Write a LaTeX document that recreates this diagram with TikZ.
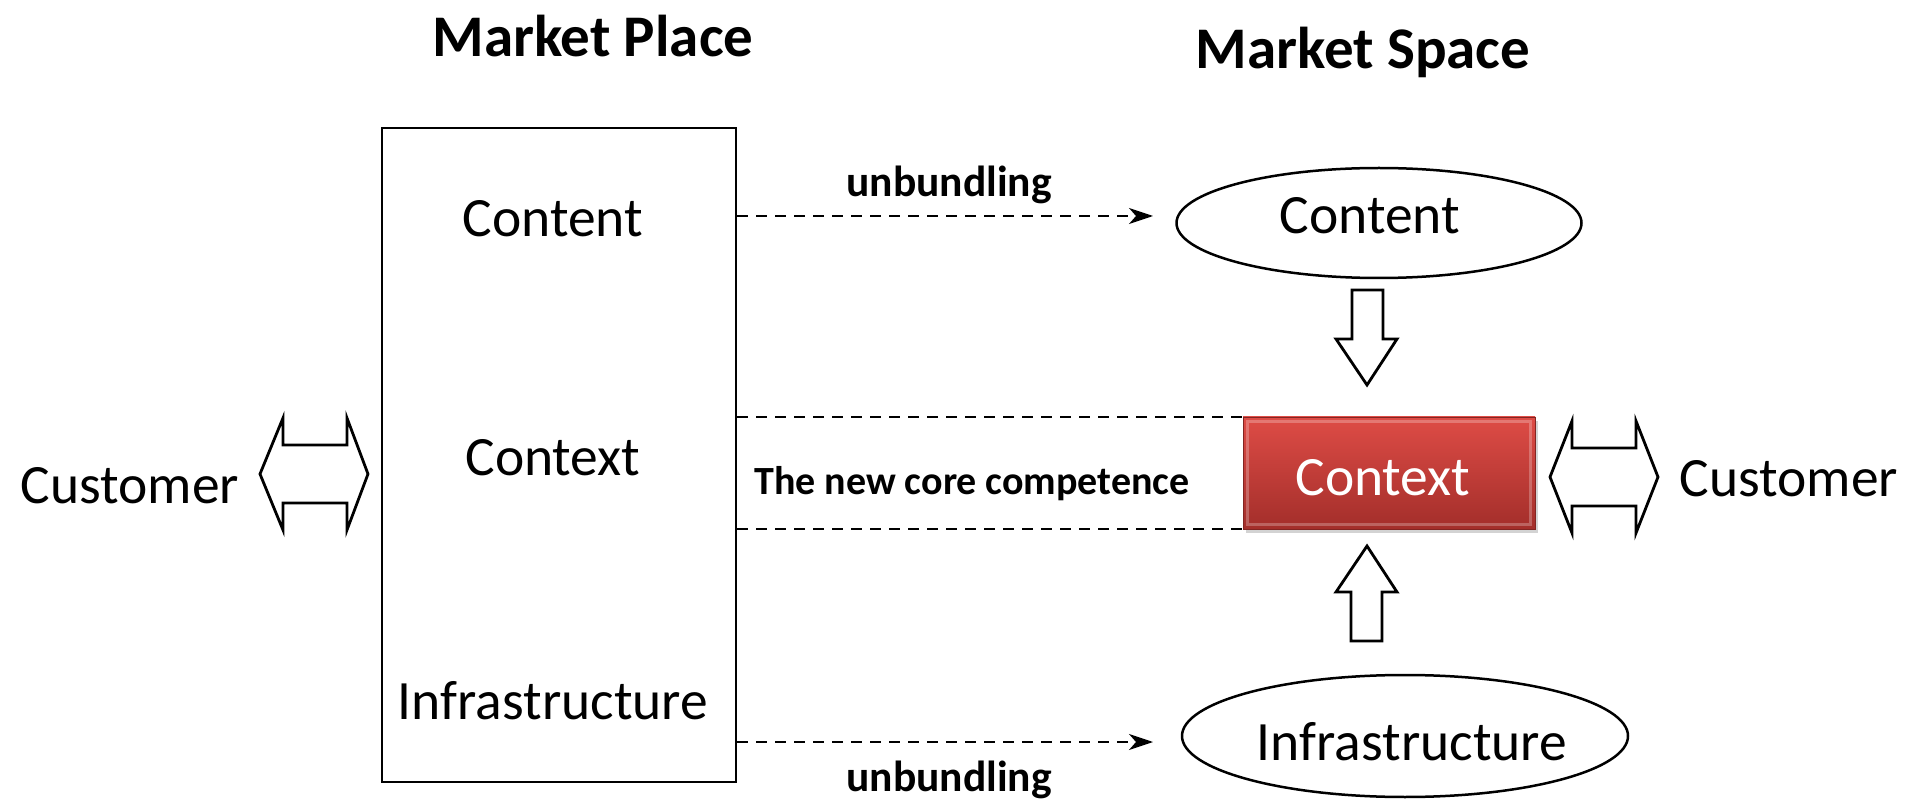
\documentclass[tikz,border=0pt]{standalone}
\usepackage{fontspec}
\setmainfont{Carlito}
\usetikzlibrary{arrows.meta,shapes.geometric,shadows}

\definecolor{ctxtop}{RGB}{222,76,70}
\definecolor{ctxbot}{RGB}{163,46,42}

\tikzset{
  title/.style={font=\fontsize{59}{64}\selectfont\bfseries},
  body/.style={font=\fontsize{55.5}{60}\selectfont, inner sep=0pt},
  note/.style={font=\fontsize{40}{46}\selectfont\bfseries, inner sep=0pt},
  tag/.style={font=\fontsize{43.5}{48}\selectfont\bfseries, inner sep=0pt},
  frame/.style={draw, line width=2.5pt},
  oval/.style={draw, ellipse, line width=2.5pt, inner sep=0pt},
  dashline/.style={line width=2pt, dash pattern=on 11pt off 8pt},
  dasharrow/.style={dashline, -{Stealth[length=24pt,width=16pt,inset=7pt]}},
  blockarrow/.style={draw, line width=2.8pt, fill=white, line join=miter},
  redbox/.style={minimum width=292pt, minimum height=112pt, inner sep=0pt,
    top color=ctxtop, bottom color=ctxbot, draw=ctxbot!80!black, line width=0.8pt,
    drop shadow={opacity=0.35, shadow xshift=3pt, shadow yshift=-4pt}},
}

\begin{document}
\begin{tikzpicture}[x=1pt, y=-1pt]
\useasboundingbox (0,0) rectangle (1907,799);

% titles
\node[title] (tPlace) at (593,36) {Market Place};
\node[title] (tSpace) at (1363,52) {Market Space};

% market place column
\node[frame, minimum width=354pt, minimum height=654pt, inner sep=0pt] (mp) at (559,455) {};
\node[body] (mpContent) at (553,219) {Content};
\node[body] (mpContext) at (553,458) {Context};
\node[body] (mpInfra) at (553,701) {Infrastructure};

% market space column
\node[oval, minimum width=405pt, minimum height=110pt] (msContent) at (1379,223) {};
\node[body] (msContentT) at (1370,216) {Content};
\node[redbox] (ctx) at (1389,473) {};
\draw[white, opacity=0.25, line width=3pt]
  ([xshift=5pt,yshift=-5pt]ctx.north west) rectangle ([xshift=-5pt,yshift=5pt]ctx.south east);
\node[body, text=white] (ctxT) at (1383,478) {Context};
\node[oval, minimum width=446pt, minimum height=122pt] (msInfra) at (1405,736) {};
\node[body] (msInfraT) at (1412,742) {Infrastructure};

% customers
\node[body] (custL) at (130,486) {Customer};
\node[body] (custR) at (1789,479) {Customer};

% unbundling connectors
\coordinate (u1) at (1153,216);
\coordinate (u2) at (1153,742);
\draw[dasharrow] (mp.east |- u1) -- (u1);
\draw[dasharrow] (mp.east |- u2) -- (u2);
\node[tag] (ub1) at (949,185) {unbundling};
\node[tag] (ub2) at (949,780) {unbundling};

% core competence band
\draw[dashline] (mp.east |- ctx.north) -- (ctx.north west);
\draw[dashline] (mp.east |- ctx.south) -- (ctx.south west);
\node[note] (core) at (972,484) {The new core competence};

% block arrows into the context box
\draw[blockarrow] (1352,290) -- (1383,290) -- (1383,339) -- (1397,339) -- (1367,385)
  -- (1336,339) -- (1352,339) -- cycle;
\draw[blockarrow] (1351,641) -- (1382,641) -- (1382,592) -- (1397,592) -- (1367,546)
  -- (1336,592) -- (1351,592) -- cycle;

% double arrows to the customers
\draw[blockarrow] (260,474) -- (283,418) -- (283,445) -- (347,445) -- (347,418)
  -- (368,474) -- (347,530) -- (347,503) -- (283,503) -- (283,530) -- cycle;
\draw[blockarrow] (1550,477) -- (1572,421) -- (1572,448) -- (1636,448) -- (1636,421)
  -- (1658,477) -- (1636,533) -- (1636,506) -- (1572,506) -- (1572,533) -- cycle;
\end{tikzpicture}
\end{document}
